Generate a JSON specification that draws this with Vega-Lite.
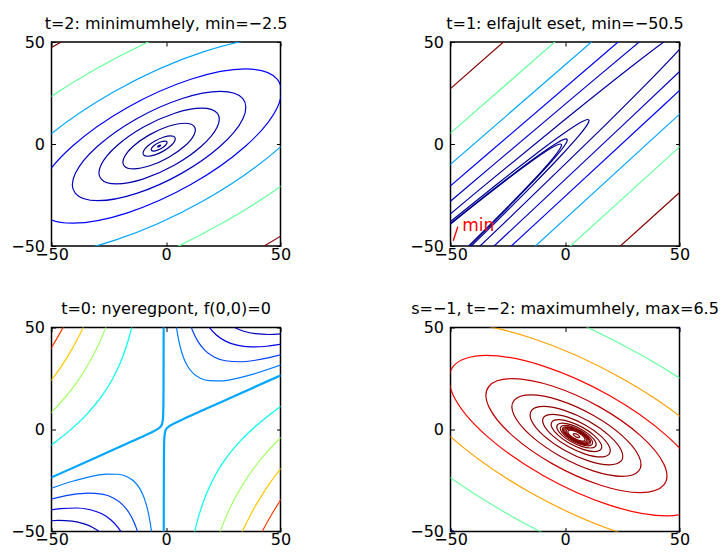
{
  "$schema": "https://vega.github.io/schema/vega-lite/v6.json",
  "background": "white",
  "padding": {"left": 9.5, "top": 14, "right": 5, "bottom": 5},
  "config": {
    "font": "DejaVu Sans",
    "view": {"stroke": "#000000", "strokeWidth": 1.5},
    "axis": {"grid": false, "domain": false, "tickColor": "#000000", "tickSize": -4, "tickWidth": 1, "labelFont": "DejaVu Sans", "labelFontSize": 16, "labelColor": "#000000", "labelFlush": false, "labelOverlap": false},
    "axisX": {"labelPadding": 4},
    "axisY": {"labelPadding": 11},
    "title": {"font": "DejaVu Sans", "fontSize": 16, "fontWeight": "normal", "color": "#000000", "offset": 2.5, "baseline": "alphabetic", "anchor": "middle", "frame": "group"}
  },
  "datasets": {
    "p1": [
      {"id":"a","seq":0,"x":-2.55,"y":-1,"level":-2.4},{"id":"a","seq":1,"x":-2.39,"y":-0.61,"level":-2.4},{"id":"a","seq":2,"x":-2.84,"y":-0.61,"level":-2.4},{"id":"a","seq":3,"x":-3.45,"y":-1,"level":-2.4},{"id":"a","seq":4,"x":-3.61,"y":-1.39,"level":-2.4},{"id":"a","seq":5,"x":-3.16,"y":-1.39,"level":-2.4},
      {"id":"b","seq":0,"x":-0.55,"y":-1,"level":0.5},{"id":"b","seq":1,"x":0.35,"y":0.22,"level":0.5},{"id":"b","seq":2,"x":0.35,"y":1.12,"level":0.5},{"id":"b","seq":3,"x":-0.55,"y":1.45,"level":0.5},{"id":"b","seq":4,"x":-2.1,"y":1.12,"level":0.5},{"id":"b","seq":5,"x":-3.9,"y":0.22,"level":0.5},{"id":"b","seq":6,"x":-5.45,"y":-1,"level":0.5},{"id":"b","seq":7,"x":-6.35,"y":-2.22,"level":0.5},{"id":"b","seq":8,"x":-6.35,"y":-3.12,"level":0.5},{"id":"b","seq":9,"x":-5.45,"y":-3.45,"level":0.5},{"id":"b","seq":10,"x":-3.9,"y":-3.12,"level":0.5},{"id":"b","seq":11,"x":-2.1,"y":-2.22,"level":0.5},
      {"id":"c","seq":0,"x":2,"y":-1,"level":10},{"id":"c","seq":1,"x":3.83,"y":1.5,"level":10},{"id":"c","seq":2,"x":3.83,"y":3.33,"level":10},{"id":"c","seq":3,"x":2,"y":4,"level":10},{"id":"c","seq":4,"x":-1.17,"y":3.33,"level":10},{"id":"c","seq":5,"x":-4.83,"y":1.5,"level":10},{"id":"c","seq":6,"x":-8,"y":-1,"level":10},{"id":"c","seq":7,"x":-9.83,"y":-3.5,"level":10},{"id":"c","seq":8,"x":-9.83,"y":-5.33,"level":10},{"id":"c","seq":9,"x":-8,"y":-6,"level":10},{"id":"c","seq":10,"x":-4.83,"y":-5.33,"level":10},{"id":"c","seq":11,"x":-1.17,"y":-3.5,"level":10},
      {"id":"d","seq":0,"x":8.18,"y":-1,"level":60},{"id":"d","seq":1,"x":12.27,"y":4.59,"level":60},{"id":"d","seq":2,"x":12.27,"y":8.68,"level":60},{"id":"d","seq":3,"x":8.18,"y":10.18,"level":60},{"id":"d","seq":4,"x":1.09,"y":8.68,"level":60},{"id":"d","seq":5,"x":-7.09,"y":4.59,"level":60},{"id":"d","seq":6,"x":-14.18,"y":-1,"level":60},{"id":"d","seq":7,"x":-18.27,"y":-6.59,"level":60},{"id":"d","seq":8,"x":-18.27,"y":-10.68,"level":60},{"id":"d","seq":9,"x":-14.18,"y":-12.18,"level":60},{"id":"d","seq":10,"x":-7.09,"y":-10.68,"level":60},{"id":"d","seq":11,"x":1.09,"y":-6.59,"level":60},
      {"id":"e","seq":0,"x":15.57,"y":-1,"level":170},{"id":"e","seq":1,"x":22.37,"y":8.29,"level":170},{"id":"e","seq":2,"x":22.37,"y":15.08,"level":170},{"id":"e","seq":3,"x":15.57,"y":17.57,"level":170},{"id":"e","seq":4,"x":3.8,"y":15.08,"level":170},{"id":"e","seq":5,"x":-9.8,"y":8.29,"level":170},{"id":"e","seq":6,"x":-21.57,"y":-1,"level":170},{"id":"e","seq":7,"x":-28.37,"y":-10.29,"level":170},{"id":"e","seq":8,"x":-28.37,"y":-17.08,"level":170},{"id":"e","seq":9,"x":-21.57,"y":-19.57,"level":170},{"id":"e","seq":10,"x":-9.8,"y":-17.08,"level":170},{"id":"e","seq":11,"x":3.8,"y":-10.29,"level":170},
      {"id":"f","seq":0,"x":23.78,"y":-1,"level":356},{"id":"f","seq":1,"x":33.58,"y":12.39,"level":356},{"id":"f","seq":2,"x":33.58,"y":22.19,"level":356},{"id":"f","seq":3,"x":23.78,"y":25.78,"level":356},{"id":"f","seq":4,"x":6.8,"y":22.19,"level":356},{"id":"f","seq":5,"x":-12.8,"y":12.39,"level":356},{"id":"f","seq":6,"x":-29.78,"y":-1,"level":356},{"id":"f","seq":7,"x":-39.58,"y":-14.39,"level":356},{"id":"f","seq":8,"x":-39.58,"y":-24.19,"level":356},{"id":"f","seq":9,"x":-29.78,"y":-27.78,"level":356},{"id":"f","seq":10,"x":-12.8,"y":-24.19,"level":356},{"id":"f","seq":11,"x":6.8,"y":-14.39,"level":356},
      {"id":"g","seq":0,"x":34.8,"y":-1,"level":712},{"id":"g","seq":1,"x":48.63,"y":17.9,"level":712},{"id":"g","seq":2,"x":48.63,"y":31.73,"level":712},{"id":"g","seq":3,"x":34.8,"y":36.8,"level":712},{"id":"g","seq":4,"x":10.83,"y":31.73,"level":712},{"id":"g","seq":5,"x":-16.83,"y":17.9,"level":712},{"id":"g","seq":6,"x":-40.8,"y":-1,"level":712},{"id":"g","seq":7,"x":-54.63,"y":-19.9,"level":712},{"id":"g","seq":8,"x":-54.63,"y":-33.73,"level":712},{"id":"g","seq":9,"x":-40.8,"y":-38.8,"level":712},{"id":"g","seq":10,"x":-16.83,"y":-33.73,"level":712},{"id":"g","seq":11,"x":10.83,"y":-19.9,"level":712},
      {"id":"h","seq":0,"x":50.43,"y":-1,"level":1425},{"id":"h","seq":1,"x":69.99,"y":25.72,"level":1425},{"id":"h","seq":2,"x":69.99,"y":45.27,"level":1425},{"id":"h","seq":3,"x":50.43,"y":52.43,"level":1425},{"id":"h","seq":4,"x":16.56,"y":45.27,"level":1425},{"id":"h","seq":5,"x":-22.56,"y":25.72,"level":1425},{"id":"h","seq":6,"x":-56.43,"y":-1,"level":1425},{"id":"h","seq":7,"x":-75.99,"y":-27.72,"level":1425},{"id":"h","seq":8,"x":-75.99,"y":-47.27,"level":1425},{"id":"h","seq":9,"x":-56.43,"y":-54.43,"level":1425},{"id":"h","seq":10,"x":-22.56,"y":-47.27,"level":1425},{"id":"h","seq":11,"x":16.56,"y":-27.72,"level":1425},
      {"id":"i","seq":0,"x":72.53,"y":-1,"level":2850},{"id":"i","seq":1,"x":100.17,"y":36.77,"level":2850},{"id":"i","seq":2,"x":100.17,"y":64.41,"level":2850},{"id":"i","seq":3,"x":72.53,"y":74.53,"level":2850},{"id":"i","seq":4,"x":24.64,"y":64.41,"level":2850},{"id":"i","seq":5,"x":-30.64,"y":36.77,"level":2850},{"id":"i","seq":6,"x":-78.53,"y":-1,"level":2850},{"id":"i","seq":7,"x":-106.17,"y":-38.77,"level":2850},{"id":"i","seq":8,"x":-106.17,"y":-66.41,"level":2850},{"id":"i","seq":9,"x":-78.53,"y":-76.53,"level":2850},{"id":"i","seq":10,"x":-30.64,"y":-66.41,"level":2850},{"id":"i","seq":11,"x":24.64,"y":-38.77,"level":2850},
      {"id":"j","seq":0,"x":103.79,"y":-1,"level":5700},{"id":"j","seq":1,"x":142.87,"y":52.4,"level":5700},{"id":"j","seq":2,"x":142.87,"y":91.48,"level":5700},{"id":"j","seq":3,"x":103.79,"y":105.79,"level":5700},{"id":"j","seq":4,"x":36.09,"y":91.48,"level":5700},{"id":"j","seq":5,"x":-42.09,"y":52.4,"level":5700},{"id":"j","seq":6,"x":-109.79,"y":-1,"level":5700},{"id":"j","seq":7,"x":-148.87,"y":-54.4,"level":5700},{"id":"j","seq":8,"x":-148.87,"y":-93.48,"level":5700},{"id":"j","seq":9,"x":-109.79,"y":-107.79,"level":5700},{"id":"j","seq":10,"x":-42.09,"y":-93.48,"level":5700},{"id":"j","seq":11,"x":36.09,"y":-54.4,"level":5700}
    ],
    "p2": [
      {"id":"a1","seq":0,"x":-55,"y":22.23,"level":2850},{"id":"a1","seq":1,"x":-20,"y":56.77,"level":2850},
      {"id":"a2","seq":0,"x":20,"y":-54.24,"level":2850},{"id":"a2","seq":1,"x":55,"y":-18.77,"level":2850},
      {"id":"b1","seq":0,"x":-55,"y":0.42,"level":1425},{"id":"b1","seq":1,"x":0,"y":54.39,"level":1425},
      {"id":"b2","seq":0,"x":0,"y":-52.39,"level":1425},{"id":"b2","seq":1,"x":55,"y":3.65,"level":1425},
      {"id":"c1","seq":0,"x":-55,"y":-14.82,"level":712},{"id":"c1","seq":1,"x":20,"y":58.22,"level":712},
      {"id":"c2","seq":0,"x":-20,"y":-57.28,"level":712},{"id":"c2","seq":1,"x":55,"y":19.74,"level":712},
      {"id":"d1","seq":0,"x":-155.5,"y":-122.5,"level":356},{"id":"d1","seq":1,"x":-93.5,"y":-62.5,"level":356},{"id":"d1","seq":2,"x":-35.5,"y":-6.5,"level":356},{"id":"d1","seq":3,"x":18.5,"y":45.5,"level":356},{"id":"d1","seq":4,"x":68.5,"y":93.5,"level":356},{"id":"d1","seq":5,"x":114.5,"y":137.5,"level":356},
      {"id":"d2","seq":0,"x":136,"y":116,"level":356},{"id":"d2","seq":1,"x":92,"y":70,"level":356},{"id":"d2","seq":2,"x":44,"y":20,"level":356},{"id":"d2","seq":3,"x":-8,"y":-34,"level":356},{"id":"d2","seq":4,"x":-64,"y":-92,"level":356},{"id":"d2","seq":5,"x":-124,"y":-154,"level":356},
      {"id":"e1","seq":0,"x":-117.5,"y":-92.5,"level":170},{"id":"e1","seq":1,"x":-71.5,"y":-48.5,"level":170},{"id":"e1","seq":2,"x":-29.5,"y":-8.5,"level":170},{"id":"e1","seq":3,"x":8.5,"y":27.5,"level":170},{"id":"e1","seq":4,"x":42.5,"y":59.5,"level":170},{"id":"e1","seq":5,"x":72.5,"y":87.5,"level":170},
      {"id":"e2","seq":0,"x":86,"y":74,"level":170},{"id":"e2","seq":1,"x":58,"y":44,"level":170},{"id":"e2","seq":2,"x":26,"y":10,"level":170},{"id":"e2","seq":3,"x":-10,"y":-28,"level":170},{"id":"e2","seq":4,"x":-50,"y":-70,"level":170},{"id":"e2","seq":5,"x":-94,"y":-116,"level":170},
      {"id":"f","seq":0,"x":-139.5,"y":-118.5,"level":60},{"id":"f","seq":1,"x":-84,"y":-66,"level":60},{"id":"f","seq":2,"x":-37.5,"y":-22.5,"level":60},{"id":"f","seq":3,"x":0,"y":12,"level":60},{"id":"f","seq":4,"x":28.5,"y":37.5,"level":60},{"id":"f","seq":5,"x":48,"y":54,"level":60},{"id":"f","seq":6,"x":58.5,"y":61.5,"level":60},{"id":"f","seq":7,"x":60,"y":60,"level":60},{"id":"f","seq":8,"x":52.5,"y":49.5,"level":60},{"id":"f","seq":9,"x":36,"y":30,"level":60},{"id":"f","seq":10,"x":10.5,"y":1.5,"level":60},{"id":"f","seq":11,"x":-24,"y":-36,"level":60},{"id":"f","seq":12,"x":-67.5,"y":-82.5,"level":60},{"id":"f","seq":13,"x":-120,"y":-138,"level":60},
      {"id":"g","seq":0,"x":-102,"y":-86,"level":10},{"id":"g","seq":1,"x":-74,"y":-60,"level":10},{"id":"g","seq":2,"x":-50,"y":-38,"level":10},{"id":"g","seq":3,"x":-30,"y":-20,"level":10},{"id":"g","seq":4,"x":-14,"y":-6,"level":10},{"id":"g","seq":5,"x":-2,"y":4,"level":10},{"id":"g","seq":6,"x":6,"y":10,"level":10},{"id":"g","seq":7,"x":10,"y":12,"level":10},{"id":"g","seq":8,"x":10,"y":10,"level":10},{"id":"g","seq":9,"x":6,"y":4,"level":10},{"id":"g","seq":10,"x":-2,"y":-6,"level":10},{"id":"g","seq":11,"x":-14,"y":-20,"level":10},{"id":"g","seq":12,"x":-30,"y":-38,"level":10},{"id":"g","seq":13,"x":-50,"y":-60,"level":10},{"id":"g","seq":14,"x":-74,"y":-86,"level":10},
      {"id":"h","seq":0,"x":-83.5,"y":-69.5,"level":0.5},{"id":"h","seq":1,"x":-59.5,"y":-47.5,"level":0.5},{"id":"h","seq":2,"x":-39.5,"y":-29.5,"level":0.5},{"id":"h","seq":3,"x":-23.5,"y":-15.5,"level":0.5},{"id":"h","seq":4,"x":-11.5,"y":-5.5,"level":0.5},{"id":"h","seq":5,"x":-3.5,"y":0.5,"level":0.5},{"id":"h","seq":6,"x":0.5,"y":2.5,"level":0.5},{"id":"h","seq":7,"x":0.5,"y":0.5,"level":0.5},{"id":"h","seq":8,"x":-3.5,"y":-5.5,"level":0.5},{"id":"h","seq":9,"x":-11.5,"y":-15.5,"level":0.5},{"id":"h","seq":10,"x":-23.5,"y":-29.5,"level":0.5},{"id":"h","seq":11,"x":-39.5,"y":-47.5,"level":0.5},{"id":"h","seq":12,"x":-59.5,"y":-69.5,"level":0.5},{"id":"h","seq":13,"x":-83.5,"y":-95.5,"level":0.5},
      {"id":"k","seq":0,"x":-86,"y":-72,"level":-2},{"id":"k","seq":1,"x":-62,"y":-50,"level":-2},{"id":"k","seq":2,"x":-42,"y":-32,"level":-2},{"id":"k","seq":3,"x":-26,"y":-18,"level":-2},{"id":"k","seq":4,"x":-14,"y":-8,"level":-2},{"id":"k","seq":5,"x":-6,"y":-2,"level":-2},{"id":"k","seq":6,"x":-2,"y":0,"level":-2},{"id":"k","seq":7,"x":-2,"y":-2,"level":-2},{"id":"k","seq":8,"x":-6,"y":-8,"level":-2},{"id":"k","seq":9,"x":-14,"y":-18,"level":-2},{"id":"k","seq":10,"x":-26,"y":-32,"level":-2},{"id":"k","seq":11,"x":-42,"y":-50,"level":-2},{"id":"k","seq":12,"x":-62,"y":-72,"level":-2}
    ],
    "minmark": [{"x": -48.8, "y": -47.4}, {"x": -46.8, "y": -40.5}],
    "minlabel": [{"x": -44.9, "y": -42.6, "label": "min"}],
    "p3": [
      {"id":"z1","seq":0,"x":-53,"y":-24.97,"level":0},{"id":"z1","seq":1,"x":-31,"y":-13.95,"level":0},{"id":"z1","seq":2,"x":-17,"y":-6.91,"level":0},{"id":"z1","seq":3,"x":-9,"y":-2.81,"level":0},{"id":"z1","seq":4,"x":-5,"y":-0.625,"level":0},{"id":"z1","seq":5,"x":-3,"y":0.75,"level":0},{"id":"z1","seq":6,"x":-2.2,"y":1.65,"level":0},{"id":"z1","seq":7,"x":-1.7,"y":2.79,"level":0},{"id":"z1","seq":8,"x":-1.4,"y":4.55,"level":0},{"id":"z1","seq":9,"x":-1.25,"y":6.875,"level":0},{"id":"z1","seq":10,"x":-1.15,"y":10.93,"level":0},{"id":"z1","seq":11,"x":-1.1,"y":15.95,"level":0},{"id":"z1","seq":12,"x":-1.06,"y":25.97,"level":0},{"id":"z1","seq":13,"x":-1.04,"y":38.48,"level":0},{"id":"z1","seq":14,"x":-1.029,"y":52.7,"level":0},
      {"id":"z2","seq":0,"x":-0.971,"y":-50.7,"level":0},{"id":"z2","seq":1,"x":-0.96,"y":-36.48,"level":0},{"id":"z2","seq":2,"x":-0.94,"y":-23.97,"level":0},{"id":"z2","seq":3,"x":-0.9,"y":-13.95,"level":0},{"id":"z2","seq":4,"x":-0.85,"y":-8.93,"level":0},{"id":"z2","seq":5,"x":-0.75,"y":-4.875,"level":0},{"id":"z2","seq":6,"x":-0.6,"y":-2.55,"level":0},{"id":"z2","seq":7,"x":-0.3,"y":-0.79,"level":0},{"id":"z2","seq":8,"x":0.2,"y":0.35,"level":0},{"id":"z2","seq":9,"x":1,"y":1.25,"level":0},{"id":"z2","seq":10,"x":3,"y":2.625,"level":0},{"id":"z2","seq":11,"x":7,"y":4.81,"level":0},{"id":"z2","seq":12,"x":15,"y":8.91,"level":0},{"id":"z2","seq":13,"x":29,"y":15.95,"level":0},{"id":"z2","seq":14,"x":51,"y":26.97,"level":0},
      {"id":"m1u","seq":0,"x":4.3,"y":52.4,"level":-260},{"id":"m1u","seq":1,"x":5,"y":47.08,"level":-260},{"id":"m1u","seq":2,"x":6,"y":41.43,"level":-260},{"id":"m1u","seq":3,"x":7.5,"y":35.66,"level":-260},{"id":"m1u","seq":4,"x":9.5,"y":30.87,"level":-260},{"id":"m1u","seq":5,"x":12,"y":27.38,"level":-260},{"id":"m1u","seq":6,"x":15,"y":25.16,"level":-260},{"id":"m1u","seq":7,"x":19,"y":23.93,"level":-260},{"id":"m1u","seq":8,"x":24,"y":23.84,"level":-260},{"id":"m1u","seq":9,"x":30,"y":24.84,"level":-260},{"id":"m1u","seq":10,"x":38,"y":27.13,"level":-260},{"id":"m1u","seq":11,"x":51,"y":31.97,"level":-260},
      {"id":"m1l","seq":0,"x":-53,"y":-29.97,"level":-260},{"id":"m1l","seq":1,"x":-40,"y":-25.13,"level":-260},{"id":"m1l","seq":2,"x":-32,"y":-22.84,"level":-260},{"id":"m1l","seq":3,"x":-26,"y":-21.84,"level":-260},{"id":"m1l","seq":4,"x":-21,"y":-21.93,"level":-260},{"id":"m1l","seq":5,"x":-17,"y":-23.16,"level":-260},{"id":"m1l","seq":6,"x":-14,"y":-25.38,"level":-260},{"id":"m1l","seq":7,"x":-11.5,"y":-28.87,"level":-260},{"id":"m1l","seq":8,"x":-9.5,"y":-33.66,"level":-260},{"id":"m1l","seq":9,"x":-8,"y":-39.43,"level":-260},{"id":"m1l","seq":10,"x":-7,"y":-45.08,"level":-260},{"id":"m1l","seq":11,"x":-6.3,"y":-50.4,"level":-260},
      {"id":"m2u","seq":0,"x":9.7,"y":54.81,"level":-520},{"id":"m2u","seq":1,"x":10.5,"y":51.84,"level":-520},{"id":"m2u","seq":2,"x":12,"y":47.38,"level":-520},{"id":"m2u","seq":3,"x":14,"y":43.07,"level":-520},{"id":"m2u","seq":4,"x":17,"y":38.81,"level":-520},{"id":"m2u","seq":5,"x":21,"y":35.57,"level":-520},{"id":"m2u","seq":6,"x":26,"y":33.7,"level":-520},{"id":"m2u","seq":7,"x":32,"y":33.21,"level":-520},{"id":"m2u","seq":8,"x":39,"y":33.96,"level":-520},{"id":"m2u","seq":9,"x":45,"y":35.27,"level":-520},{"id":"m2u","seq":10,"x":51,"y":36.97,"level":-520},
      {"id":"m2l","seq":0,"x":-53,"y":-34.97,"level":-520},{"id":"m2l","seq":1,"x":-47,"y":-33.27,"level":-520},{"id":"m2l","seq":2,"x":-41,"y":-31.96,"level":-520},{"id":"m2l","seq":3,"x":-34,"y":-31.21,"level":-520},{"id":"m2l","seq":4,"x":-28,"y":-31.7,"level":-520},{"id":"m2l","seq":5,"x":-23,"y":-33.57,"level":-520},{"id":"m2l","seq":6,"x":-19,"y":-36.81,"level":-520},{"id":"m2l","seq":7,"x":-16,"y":-41.07,"level":-520},{"id":"m2l","seq":8,"x":-14,"y":-45.38,"level":-520},{"id":"m2l","seq":9,"x":-12.5,"y":-49.84,"level":-520},{"id":"m2l","seq":10,"x":-11.7,"y":-52.81,"level":-520},
      {"id":"m3u","seq":0,"x":15.5,"y":56.43,"level":-780},{"id":"m3u","seq":1,"x":17,"y":53.25,"level":-780},{"id":"m3u","seq":2,"x":19,"y":49.93,"level":-780},{"id":"m3u","seq":3,"x":22,"y":46.35,"level":-780},{"id":"m3u","seq":4,"x":26,"y":43.33,"level":-780},{"id":"m3u","seq":5,"x":31,"y":41.33,"level":-780},{"id":"m3u","seq":6,"x":37,"y":40.49,"level":-780},{"id":"m3u","seq":7,"x":44,"y":40.8,"level":-780},{"id":"m3u","seq":8,"x":51,"y":41.97,"level":-780},
      {"id":"m3l","seq":0,"x":-53,"y":-39.97,"level":-780},{"id":"m3l","seq":1,"x":-46,"y":-38.8,"level":-780},{"id":"m3l","seq":2,"x":-39,"y":-38.49,"level":-780},{"id":"m3l","seq":3,"x":-33,"y":-39.33,"level":-780},{"id":"m3l","seq":4,"x":-28,"y":-41.33,"level":-780},{"id":"m3l","seq":5,"x":-24,"y":-44.35,"level":-780},{"id":"m3l","seq":6,"x":-21,"y":-47.93,"level":-780},{"id":"m3l","seq":7,"x":-19,"y":-51.25,"level":-780},{"id":"m3l","seq":8,"x":-17.5,"y":-54.43,"level":-780},
      {"id":"m4u","seq":0,"x":25,"y":53.94,"level":-1040},{"id":"m4u","seq":1,"x":27,"y":52.09,"level":-1040},{"id":"m4u","seq":2,"x":30,"y":50,"level":-1040},{"id":"m4u","seq":3,"x":34,"y":48.17,"level":-1040},{"id":"m4u","seq":4,"x":39,"y":46.96,"level":-1040},{"id":"m4u","seq":5,"x":45,"y":46.58,"level":-1040},{"id":"m4u","seq":6,"x":51,"y":46.97,"level":-1040},
      {"id":"m4l","seq":0,"x":-53,"y":-44.97,"level":-1040},{"id":"m4l","seq":1,"x":-47,"y":-44.58,"level":-1040},{"id":"m4l","seq":2,"x":-41,"y":-44.96,"level":-1040},{"id":"m4l","seq":3,"x":-36,"y":-46.17,"level":-1040},{"id":"m4l","seq":4,"x":-32,"y":-48,"level":-1040},{"id":"m4l","seq":5,"x":-29,"y":-50.09,"level":-1040},{"id":"m4l","seq":6,"x":-27,"y":-51.94,"level":-1040},
      {"id":"q1u","seq":0,"x":-53,"y":-9.97,"level":780},{"id":"q1u","seq":1,"x":-48,"y":-5.87,"level":780},{"id":"q1u","seq":2,"x":-41,"y":0.54,"level":780},{"id":"q1u","seq":3,"x":-34,"y":8.18,"level":780},{"id":"q1u","seq":4,"x":-28,"y":16.44,"level":780},{"id":"q1u","seq":5,"x":-23,"y":25.52,"level":780},{"id":"q1u","seq":6,"x":-19,"y":35.42,"level":780},{"id":"q1u","seq":7,"x":-16,"y":45.6,"level":780},{"id":"q1u","seq":8,"x":-14,"y":54.62,"level":780},
      {"id":"q1l","seq":0,"x":12,"y":-52.62,"level":780},{"id":"q1l","seq":1,"x":14,"y":-43.6,"level":780},{"id":"q1l","seq":2,"x":17,"y":-33.42,"level":780},{"id":"q1l","seq":3,"x":21,"y":-23.52,"level":780},{"id":"q1l","seq":4,"x":26,"y":-14.44,"level":780},{"id":"q1l","seq":5,"x":32,"y":-6.18,"level":780},{"id":"q1l","seq":6,"x":39,"y":1.46,"level":780},{"id":"q1l","seq":7,"x":46,"y":7.87,"level":780},{"id":"q1l","seq":8,"x":51,"y":11.97,"level":780},
      {"id":"q2u","seq":0,"x":-54,"y":3.96,"level":1560},{"id":"q2u","seq":1,"x":-50,"y":8.37,"level":1560},{"id":"q2u","seq":2,"x":-44,"y":15.81,"level":1560},{"id":"q2u","seq":3,"x":-38,"y":24.7,"level":1560},{"id":"q2u","seq":4,"x":-33,"y":33.8,"level":1560},{"id":"q2u","seq":5,"x":-29,"y":42.77,"level":1560},{"id":"q2u","seq":6,"x":-26,"y":50.96,"level":1560},{"id":"q2u","seq":7,"x":-24,"y":57.39,"level":1560},
      {"id":"q2l","seq":0,"x":22,"y":-55.39,"level":1560},{"id":"q2l","seq":1,"x":24,"y":-48.96,"level":1560},{"id":"q2l","seq":2,"x":27,"y":-40.77,"level":1560},{"id":"q2l","seq":3,"x":31,"y":-31.8,"level":1560},{"id":"q2l","seq":4,"x":36,"y":-22.7,"level":1560},{"id":"q2l","seq":5,"x":42,"y":-13.81,"level":1560},{"id":"q2l","seq":6,"x":48,"y":-6.37,"level":1560},{"id":"q2l","seq":7,"x":52,"y":-1.96,"level":1560},
      {"id":"q3u","seq":0,"x":-55,"y":17.36,"level":2340},{"id":"q3u","seq":1,"x":-51,"y":22.83,"level":2340},{"id":"q3u","seq":2,"x":-47,"y":28.9,"level":2340},{"id":"q3u","seq":3,"x":-43,"y":35.75,"level":2340},{"id":"q3u","seq":4,"x":-39,"y":43.62,"level":2340},{"id":"q3u","seq":5,"x":-36,"y":50.4,"level":2340},{"id":"q3u","seq":6,"x":-34,"y":55.45,"level":2340},
      {"id":"q3l","seq":0,"x":32,"y":-53.45,"level":2340},{"id":"q3l","seq":1,"x":34,"y":-48.4,"level":2340},{"id":"q3l","seq":2,"x":37,"y":-41.62,"level":2340},{"id":"q3l","seq":3,"x":41,"y":-33.75,"level":2340},{"id":"q3l","seq":4,"x":45,"y":-26.9,"level":2340},{"id":"q3l","seq":5,"x":49,"y":-20.83,"level":2340},{"id":"q3l","seq":6,"x":53,"y":-15.36,"level":2340},
      {"id":"q4u","seq":0,"x":-55,"y":31.81,"level":3120},{"id":"q4u","seq":1,"x":-51,"y":38.43,"level":3120},{"id":"q4u","seq":2,"x":-48,"y":43.91,"level":3120},{"id":"q4u","seq":3,"x":-45,"y":49.94,"level":3120},{"id":"q4u","seq":4,"x":-43,"y":54.32,"level":3120},
      {"id":"q4l","seq":0,"x":41,"y":-52.32,"level":3120},{"id":"q4l","seq":1,"x":43,"y":-47.94,"level":3120},{"id":"q4l","seq":2,"x":46,"y":-41.91,"level":3120},{"id":"q4l","seq":3,"x":49,"y":-36.43,"level":3120},{"id":"q4l","seq":4,"x":53,"y":-29.81,"level":3120}
    ],
    "p4": [
      {"id":"r1","seq":0,"x":6,"y":-3,"level":6},{"id":"r1","seq":1,"x":5.37,"y":-2.5,"level":6},{"id":"r1","seq":2,"x":4.63,"y":-2.13,"level":6},{"id":"r1","seq":3,"x":4,"y":-2,"level":6},{"id":"r1","seq":4,"x":3.63,"y":-2.13,"level":6},{"id":"r1","seq":5,"x":3.63,"y":-2.5,"level":6},{"id":"r1","seq":6,"x":4,"y":-3,"level":6},{"id":"r1","seq":7,"x":4.63,"y":-3.5,"level":6},{"id":"r1","seq":8,"x":5.37,"y":-3.87,"level":6},{"id":"r1","seq":9,"x":6,"y":-4,"level":6},{"id":"r1","seq":10,"x":6.37,"y":-3.87,"level":6},{"id":"r1","seq":11,"x":6.37,"y":-3.5,"level":6},
      {"id":"r2","seq":0,"x":7.65,"y":-3,"level":3},{"id":"r2","seq":1,"x":5.97,"y":-1.68,"level":3},{"id":"r2","seq":2,"x":4.03,"y":-0.71,"level":3},{"id":"r2","seq":3,"x":2.35,"y":-0.35,"level":3},{"id":"r2","seq":4,"x":1.39,"y":-0.71,"level":3},{"id":"r2","seq":5,"x":1.39,"y":-1.68,"level":3},{"id":"r2","seq":6,"x":2.35,"y":-3,"level":3},{"id":"r2","seq":7,"x":4.03,"y":-4.32,"level":3},{"id":"r2","seq":8,"x":5.97,"y":-5.29,"level":3},{"id":"r2","seq":9,"x":7.65,"y":-5.65,"level":3},{"id":"r2","seq":10,"x":8.61,"y":-5.29,"level":3},{"id":"r2","seq":11,"x":8.61,"y":-4.32,"level":3},
      {"id":"r3","seq":0,"x":8.16,"y":-3,"level":1.5},{"id":"r3","seq":1,"x":6.16,"y":-1.42,"level":1.5},{"id":"r3","seq":2,"x":3.84,"y":-0.26,"level":1.5},{"id":"r3","seq":3,"x":1.84,"y":0.16,"level":1.5},{"id":"r3","seq":4,"x":0.68,"y":-0.26,"level":1.5},{"id":"r3","seq":5,"x":0.68,"y":-1.42,"level":1.5},{"id":"r3","seq":6,"x":1.84,"y":-3,"level":1.5},{"id":"r3","seq":7,"x":3.84,"y":-4.58,"level":1.5},{"id":"r3","seq":8,"x":6.16,"y":-5.74,"level":1.5},{"id":"r3","seq":9,"x":8.16,"y":-6.16,"level":1.5},{"id":"r3","seq":10,"x":9.32,"y":-5.74,"level":1.5},{"id":"r3","seq":11,"x":9.32,"y":-4.58,"level":1.5},
      {"id":"r4","seq":0,"x":8.61,"y":-3,"level":0},{"id":"r4","seq":1,"x":6.32,"y":-1.2,"level":0},{"id":"r4","seq":2,"x":3.68,"y":0.12,"level":0},{"id":"r4","seq":3,"x":1.39,"y":0.61,"level":0},{"id":"r4","seq":4,"x":0.07,"y":0.12,"level":0},{"id":"r4","seq":5,"x":0.07,"y":-1.2,"level":0},{"id":"r4","seq":6,"x":1.39,"y":-3,"level":0},{"id":"r4","seq":7,"x":3.68,"y":-4.8,"level":0},{"id":"r4","seq":8,"x":6.32,"y":-6.12,"level":0},{"id":"r4","seq":9,"x":8.61,"y":-6.61,"level":0},{"id":"r4","seq":10,"x":9.93,"y":-6.12,"level":0},{"id":"r4","seq":11,"x":9.93,"y":-4.8,"level":0},
      {"id":"r5","seq":0,"x":9,"y":-3,"level":-1.5},{"id":"r5","seq":1,"x":6.46,"y":-1,"level":-1.5},{"id":"r5","seq":2,"x":3.54,"y":0.46,"level":-1.5},{"id":"r5","seq":3,"x":1,"y":1,"level":-1.5},{"id":"r5","seq":4,"x":-0.46,"y":0.46,"level":-1.5},{"id":"r5","seq":5,"x":-0.46,"y":-1,"level":-1.5},{"id":"r5","seq":6,"x":1,"y":-3,"level":-1.5},{"id":"r5","seq":7,"x":3.54,"y":-5,"level":-1.5},{"id":"r5","seq":8,"x":6.46,"y":-6.46,"level":-1.5},{"id":"r5","seq":9,"x":9,"y":-7,"level":-1.5},{"id":"r5","seq":10,"x":10.46,"y":-6.46,"level":-1.5},{"id":"r5","seq":11,"x":10.46,"y":-5,"level":-1.5},
      {"id":"r6","seq":0,"x":9.36,"y":-3,"level":-3},{"id":"r6","seq":1,"x":6.6,"y":-0.82,"level":-3},{"id":"r6","seq":2,"x":3.4,"y":0.78,"level":-3},{"id":"r6","seq":3,"x":0.64,"y":1.36,"level":-3},{"id":"r6","seq":4,"x":-0.95,"y":0.78,"level":-3},{"id":"r6","seq":5,"x":-0.95,"y":-0.82,"level":-3},{"id":"r6","seq":6,"x":0.64,"y":-3,"level":-3},{"id":"r6","seq":7,"x":3.4,"y":-5.18,"level":-3},{"id":"r6","seq":8,"x":6.6,"y":-6.78,"level":-3},{"id":"r6","seq":9,"x":9.36,"y":-7.36,"level":-3},{"id":"r6","seq":10,"x":10.95,"y":-6.78,"level":-3},{"id":"r6","seq":11,"x":10.95,"y":-5.18,"level":-3},
      {"id":"r7","seq":0,"x":10,"y":-3,"level":-6},{"id":"r7","seq":1,"x":6.83,"y":-0.5,"level":-6},{"id":"r7","seq":2,"x":3.17,"y":1.33,"level":-6},{"id":"r7","seq":3,"x":0,"y":2,"level":-6},{"id":"r7","seq":4,"x":-1.83,"y":1.33,"level":-6},{"id":"r7","seq":5,"x":-1.83,"y":-0.5,"level":-6},{"id":"r7","seq":6,"x":0,"y":-3,"level":-6},{"id":"r7","seq":7,"x":3.17,"y":-5.5,"level":-6},{"id":"r7","seq":8,"x":6.83,"y":-7.33,"level":-6},{"id":"r7","seq":9,"x":10,"y":-8,"level":-6},{"id":"r7","seq":10,"x":11.83,"y":-7.33,"level":-6},{"id":"r7","seq":11,"x":11.83,"y":-5.5,"level":-6},
      {"id":"r8","seq":0,"x":11.08,"y":-3,"level":-12},{"id":"r8","seq":1,"x":7.23,"y":0.04,"level":-12},{"id":"r8","seq":2,"x":2.77,"y":2.27,"level":-12},{"id":"r8","seq":3,"x":-1.08,"y":3.08,"level":-12},{"id":"r8","seq":4,"x":-3.31,"y":2.27,"level":-12},{"id":"r8","seq":5,"x":-3.31,"y":0.04,"level":-12},{"id":"r8","seq":6,"x":-1.08,"y":-3,"level":-12},{"id":"r8","seq":7,"x":2.77,"y":-6.04,"level":-12},{"id":"r8","seq":8,"x":7.23,"y":-8.27,"level":-12},{"id":"r8","seq":9,"x":11.08,"y":-9.08,"level":-12},{"id":"r8","seq":10,"x":13.31,"y":-8.27,"level":-12},{"id":"r8","seq":11,"x":13.31,"y":-6.04,"level":-12},
      {"id":"r9","seq":0,"x":12.81,"y":-3,"level":-24},{"id":"r9","seq":1,"x":7.86,"y":0.91,"level":-24},{"id":"r9","seq":2,"x":2.14,"y":3.76,"level":-24},{"id":"r9","seq":3,"x":-2.81,"y":4.81,"level":-24},{"id":"r9","seq":4,"x":-5.67,"y":3.76,"level":-24},{"id":"r9","seq":5,"x":-5.67,"y":0.91,"level":-24},{"id":"r9","seq":6,"x":-2.81,"y":-3,"level":-24},{"id":"r9","seq":7,"x":2.14,"y":-6.91,"level":-24},{"id":"r9","seq":8,"x":7.86,"y":-9.76,"level":-24},{"id":"r9","seq":9,"x":12.81,"y":-10.81,"level":-24},{"id":"r9","seq":10,"x":15.67,"y":-9.76,"level":-24},{"id":"r9","seq":11,"x":15.67,"y":-6.91,"level":-24},
      {"id":"r10","seq":0,"x":15.44,"y":-3,"level":-48},{"id":"r10","seq":1,"x":8.82,"y":2.22,"level":-48},{"id":"r10","seq":2,"x":1.18,"y":6.04,"level":-48},{"id":"r10","seq":3,"x":-5.44,"y":7.44,"level":-48},{"id":"r10","seq":4,"x":-9.26,"y":6.04,"level":-48},{"id":"r10","seq":5,"x":-9.26,"y":2.22,"level":-48},{"id":"r10","seq":6,"x":-5.44,"y":-3,"level":-48},{"id":"r10","seq":7,"x":1.18,"y":-8.22,"level":-48},{"id":"r10","seq":8,"x":8.82,"y":-12.04,"level":-48},{"id":"r10","seq":9,"x":15.44,"y":-13.44,"level":-48},{"id":"r10","seq":10,"x":19.26,"y":-12.04,"level":-48},{"id":"r10","seq":11,"x":19.26,"y":-8.22,"level":-48},
      {"id":"r11","seq":0,"x":19.32,"y":-3,"level":-96},{"id":"r11","seq":1,"x":10.24,"y":4.16,"level":-96},{"id":"r11","seq":2,"x":-0.24,"y":9.4,"level":-96},{"id":"r11","seq":3,"x":-9.32,"y":11.32,"level":-96},{"id":"r11","seq":4,"x":-14.56,"y":9.4,"level":-96},{"id":"r11","seq":5,"x":-14.56,"y":4.16,"level":-96},{"id":"r11","seq":6,"x":-9.32,"y":-3,"level":-96},{"id":"r11","seq":7,"x":-0.24,"y":-10.16,"level":-96},{"id":"r11","seq":8,"x":10.24,"y":-15.4,"level":-96},{"id":"r11","seq":9,"x":19.32,"y":-17.32,"level":-96},{"id":"r11","seq":10,"x":24.56,"y":-15.4,"level":-96},{"id":"r11","seq":11,"x":24.56,"y":-10.16,"level":-96},
      {"id":"r12","seq":0,"x":24.93,"y":-3,"level":-192},{"id":"r12","seq":1,"x":12.29,"y":6.96,"level":-192},{"id":"r12","seq":2,"x":-2.29,"y":14.26,"level":-192},{"id":"r12","seq":3,"x":-14.93,"y":16.93,"level":-192},{"id":"r12","seq":4,"x":-22.22,"y":14.26,"level":-192},{"id":"r12","seq":5,"x":-22.22,"y":6.96,"level":-192},{"id":"r12","seq":6,"x":-14.93,"y":-3,"level":-192},{"id":"r12","seq":7,"x":-2.29,"y":-12.96,"level":-192},{"id":"r12","seq":8,"x":12.29,"y":-20.26,"level":-192},{"id":"r12","seq":9,"x":24.93,"y":-22.93,"level":-192},{"id":"r12","seq":10,"x":32.22,"y":-20.26,"level":-192},{"id":"r12","seq":11,"x":32.22,"y":-12.96,"level":-192},
      {"id":"r13","seq":0,"x":32.95,"y":-3,"level":-384},{"id":"r13","seq":1,"x":15.23,"y":10.97,"level":-384},{"id":"r13","seq":2,"x":-5.23,"y":21.2,"level":-384},{"id":"r13","seq":3,"x":-22.95,"y":24.95,"level":-384},{"id":"r13","seq":4,"x":-33.17,"y":21.2,"level":-384},{"id":"r13","seq":5,"x":-33.17,"y":10.97,"level":-384},{"id":"r13","seq":6,"x":-22.95,"y":-3,"level":-384},{"id":"r13","seq":7,"x":-5.23,"y":-16.97,"level":-384},{"id":"r13","seq":8,"x":15.23,"y":-27.2,"level":-384},{"id":"r13","seq":9,"x":32.95,"y":-30.95,"level":-384},{"id":"r13","seq":10,"x":43.17,"y":-27.2,"level":-384},{"id":"r13","seq":11,"x":43.17,"y":-16.97,"level":-384},
      {"id":"r14","seq":0,"x":44.36,"y":-3,"level":-768},{"id":"r14","seq":1,"x":19.41,"y":16.68,"level":-768},{"id":"r14","seq":2,"x":-9.41,"y":31.08,"level":-768},{"id":"r14","seq":3,"x":-34.36,"y":36.36,"level":-768},{"id":"r14","seq":4,"x":-48.76,"y":31.08,"level":-768},{"id":"r14","seq":5,"x":-48.76,"y":16.68,"level":-768},{"id":"r14","seq":6,"x":-34.36,"y":-3,"level":-768},{"id":"r14","seq":7,"x":-9.41,"y":-22.68,"level":-768},{"id":"r14","seq":8,"x":19.41,"y":-37.08,"level":-768},{"id":"r14","seq":9,"x":44.36,"y":-42.36,"level":-768},{"id":"r14","seq":10,"x":58.76,"y":-37.08,"level":-768},{"id":"r14","seq":11,"x":58.76,"y":-22.68,"level":-768},
      {"id":"r15","seq":0,"x":60.54,"y":-3,"level":-1536},{"id":"r15","seq":1,"x":25.33,"y":24.77,"level":-1536},{"id":"r15","seq":2,"x":-15.33,"y":45.1,"level":-1536},{"id":"r15","seq":3,"x":-50.54,"y":52.54,"level":-1536},{"id":"r15","seq":4,"x":-70.87,"y":45.1,"level":-1536},{"id":"r15","seq":5,"x":-70.87,"y":24.77,"level":-1536},{"id":"r15","seq":6,"x":-50.54,"y":-3,"level":-1536},{"id":"r15","seq":7,"x":-15.33,"y":-30.77,"level":-1536},{"id":"r15","seq":8,"x":25.33,"y":-51.1,"level":-1536},{"id":"r15","seq":9,"x":60.54,"y":-58.54,"level":-1536},{"id":"r15","seq":10,"x":80.87,"y":-51.1,"level":-1536},{"id":"r15","seq":11,"x":80.87,"y":-30.77,"level":-1536},
      {"id":"r16","seq":0,"x":83.47,"y":-3,"level":-3072},{"id":"r16","seq":1,"x":33.72,"y":36.23,"level":-3072},{"id":"r16","seq":2,"x":-23.72,"y":64.95,"level":-3072},{"id":"r16","seq":3,"x":-73.47,"y":75.47,"level":-3072},{"id":"r16","seq":4,"x":-102.19,"y":64.95,"level":-3072},{"id":"r16","seq":5,"x":-102.19,"y":36.23,"level":-3072},{"id":"r16","seq":6,"x":-73.47,"y":-3,"level":-3072},{"id":"r16","seq":7,"x":-23.72,"y":-42.23,"level":-3072},{"id":"r16","seq":8,"x":33.72,"y":-70.95,"level":-3072},{"id":"r16","seq":9,"x":83.47,"y":-81.47,"level":-3072},{"id":"r16","seq":10,"x":112.19,"y":-70.95,"level":-3072},{"id":"r16","seq":11,"x":112.19,"y":-42.23,"level":-3072},
      {"id":"r17","seq":0,"x":115.91,"y":-3,"level":-6144},{"id":"r17","seq":1,"x":45.59,"y":52.46,"level":-6144},{"id":"r17","seq":2,"x":-35.59,"y":93.05,"level":-6144},{"id":"r17","seq":3,"x":-105.91,"y":107.91,"level":-6144},{"id":"r17","seq":4,"x":-146.5,"y":93.05,"level":-6144},{"id":"r17","seq":5,"x":-146.5,"y":52.46,"level":-6144},{"id":"r17","seq":6,"x":-105.91,"y":-3,"level":-6144},{"id":"r17","seq":7,"x":-35.59,"y":-58.46,"level":-6144},{"id":"r17","seq":8,"x":45.59,"y":-98.05,"level":-6144},{"id":"r17","seq":9,"x":115.91,"y":-113.91,"level":-6144},{"id":"r17","seq":10,"x":156.5,"y":-98.05,"level":-6144},{"id":"r17","seq":11,"x":156.5,"y":-58.46,"level":-6144}
    ]
  },
  "columns": 2,
  "bounds": "flush",
  "spacing": {"row": 81.5, "column": 170},
  "resolve": {"scale": {"color": "independent"}},
  "concat": [
    {
      "title": {"text": "t=2: minimumhely, min=−2.5"},
      "width": 229, "height": 204,
      "layer": [
        {
          "data": {"name": "p1"},
          "mark": {"type": "line", "interpolate": "cardinal-closed", "clip": true, "strokeWidth": 1.2},
          "encoding": {
            "x": {"field": "x", "type": "quantitative", "scale": {"domain": [-50, 50], "nice": false, "zero": false}, "axis": {"orient": "bottom", "values": [-50, 0, 50], "title": null}},
            "y": {"field": "y", "type": "quantitative", "scale": {"domain": [-50, 50], "nice": false, "zero": false}, "axis": {"orient": "left", "values": [-50, 0, 50], "title": null}},
            "color": {"field": "level", "type": "quantitative", "scale": {"domain": [-2.4, 710.4, 2136, 3561.6, 4987.2, 5700], "range": ["#000090", "#0000ff", "#00ffff", "#ffff00", "#ff0000", "#800000"]}, "legend": null},
            "detail": {"field": "id", "type": "nominal"},
            "order": {"field": "seq", "type": "quantitative"}
          }
        },
        {
          "data": {"name": "p1"},
          "mark": {"type": "point", "opacity": 0, "clip": true},
          "encoding": {
            "x": {"field": "x", "type": "quantitative", "axis": {"orient": "top", "values": [-50, 0, 50], "labels": false, "title": null}},
            "y": {"field": "y", "type": "quantitative", "axis": {"orient": "right", "values": [-50, 0, 50], "labels": false, "title": null}}
          }
        }
      ],
      "resolve": {"axis": {"x": "independent", "y": "independent"}}
    },
    {
      "title": {"text": "t=1: elfajult eset, min=−50.5"},
      "width": 229, "height": 204,
      "layer": [
        {
          "data": {"name": "p2"},
          "mark": {"type": "line", "interpolate": "cardinal", "clip": true, "strokeWidth": 1.2},
          "encoding": {
            "x": {"field": "x", "type": "quantitative", "scale": {"domain": [-50, 50], "nice": false, "zero": false}, "axis": {"orient": "bottom", "values": [-50, 0, 50], "title": null}},
            "y": {"field": "y", "type": "quantitative", "scale": {"domain": [-50, 50], "nice": false, "zero": false}, "axis": {"orient": "left", "values": [-50, 0, 50], "title": null}},
            "color": {"field": "level", "type": "quantitative", "scale": {"domain": [-2, 354.5, 1067.5, 1780.5, 2493.5, 2850], "range": ["#000090", "#0000ff", "#00ffff", "#ffff00", "#ff0000", "#800000"]}, "legend": null},
            "detail": {"field": "id", "type": "nominal"},
            "order": {"field": "seq", "type": "quantitative"}
          }
        },
        {
          "data": {"name": "minmark"},
          "mark": {"type": "line", "color": "#ff0000", "strokeWidth": 1.4, "clip": true},
          "encoding": {
            "x": {"field": "x", "type": "quantitative", "axis": null},
            "y": {"field": "y", "type": "quantitative", "axis": null}
          }
        },
        {
          "data": {"name": "minlabel"},
          "mark": {"type": "text", "color": "#ff0000", "font": "DejaVu Sans", "fontSize": 17, "align": "left", "baseline": "alphabetic"},
          "encoding": {
            "x": {"field": "x", "type": "quantitative", "axis": null},
            "y": {"field": "y", "type": "quantitative", "axis": null},
            "text": {"field": "label"}
          }
        },
        {
          "data": {"name": "p2"},
          "mark": {"type": "point", "opacity": 0, "clip": true},
          "encoding": {
            "x": {"field": "x", "type": "quantitative", "axis": {"orient": "top", "values": [-50, 0, 50], "labels": false, "title": null}},
            "y": {"field": "y", "type": "quantitative", "axis": {"orient": "right", "values": [-50, 0, 50], "labels": false, "title": null}}
          }
        }
      ],
      "resolve": {"axis": {"x": "independent", "y": "independent"}}
    },
    {
      "title": {"text": "t=0: nyeregpont, f(0,0)=0"},
      "width": 229, "height": 204,
      "layer": [
        {
          "data": {"name": "p3"},
          "mark": {"type": "line", "interpolate": "monotone", "clip": true},
          "encoding": {
            "x": {"field": "x", "type": "quantitative", "scale": {"domain": [-50, 50], "nice": false, "zero": false}, "axis": {"orient": "bottom", "values": [-50, 0, 50], "title": null}},
            "y": {"field": "y", "type": "quantitative", "scale": {"domain": [-50, 50], "nice": false, "zero": false}, "axis": {"orient": "left", "values": [-50, 0, 50], "title": null}},
            "color": {"field": "level", "type": "quantitative", "scale": {"domain": [-1300, -650, 650, 1950, 3250, 3900], "range": ["#000090", "#0000ff", "#00ffff", "#ffff00", "#ff0000", "#800000"]}, "legend": null},
            "strokeWidth": {"condition": {"test": "datum.level === 0", "value": 2.2}, "value": 1.2},
            "detail": {"field": "id", "type": "nominal"},
            "order": {"field": "seq", "type": "quantitative"}
          }
        },
        {
          "data": {"name": "p3"},
          "mark": {"type": "point", "opacity": 0, "clip": true},
          "encoding": {
            "x": {"field": "x", "type": "quantitative", "axis": {"orient": "top", "values": [-50, 0, 50], "labels": false, "title": null}},
            "y": {"field": "y", "type": "quantitative", "axis": {"orient": "right", "values": [-50, 0, 50], "labels": false, "title": null}}
          }
        }
      ],
      "resolve": {"axis": {"x": "independent", "y": "independent"}}
    },
    {
      "title": {"text": "s=−1, t=−2: maximumhely, max=6.5"},
      "width": 229, "height": 204,
      "layer": [
        {
          "data": {"name": "p4"},
          "mark": {"type": "line", "interpolate": "cardinal-closed", "clip": true, "strokeWidth": 1.2},
          "encoding": {
            "x": {"field": "x", "type": "quantitative", "scale": {"domain": [-50, 50], "nice": false, "zero": false}, "axis": {"orient": "bottom", "values": [-50, 0, 50], "title": null}},
            "y": {"field": "y", "type": "quantitative", "scale": {"domain": [-50, 50], "nice": false, "zero": false}, "axis": {"orient": "left", "values": [-50, 0, 50], "title": null}},
            "color": {"field": "level", "type": "quantitative", "scale": {"domain": [-6144, -5375.25, -3837.75, -2300.25, -762.75, 6], "range": ["#000090", "#0000ff", "#00ffff", "#ffff00", "#ff0000", "#800000"]}, "legend": null},
            "detail": {"field": "id", "type": "nominal"},
            "order": {"field": "seq", "type": "quantitative"}
          }
        },
        {
          "data": {"name": "p4"},
          "mark": {"type": "point", "opacity": 0, "clip": true},
          "encoding": {
            "x": {"field": "x", "type": "quantitative", "axis": {"orient": "top", "values": [-50, 0, 50], "labels": false, "title": null}},
            "y": {"field": "y", "type": "quantitative", "axis": {"orient": "right", "values": [-50, 0, 50], "labels": false, "title": null}}
          }
        }
      ],
      "resolve": {"axis": {"x": "independent", "y": "independent"}}
    }
  ]
}
